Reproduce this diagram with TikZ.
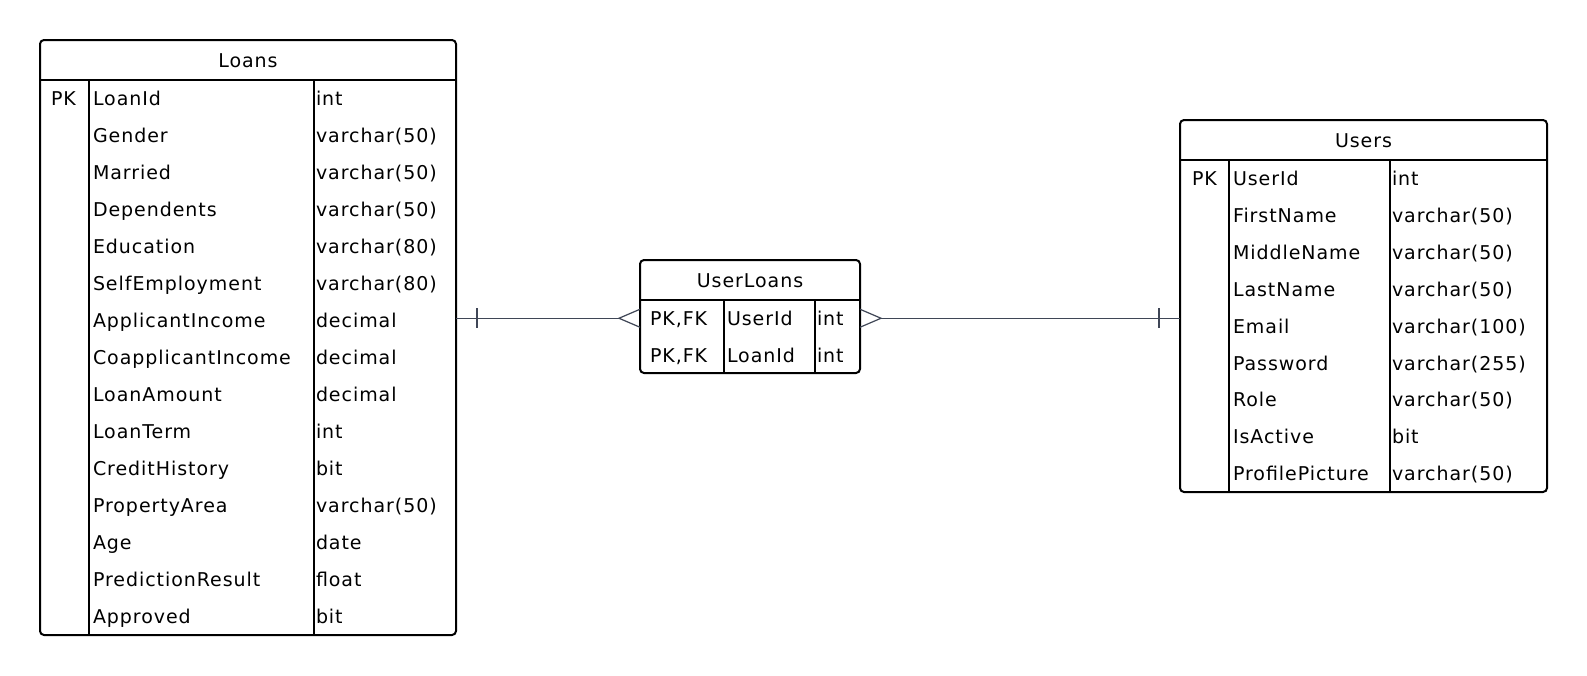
\documentclass[tikz,border=0pt]{standalone}
\usepackage{fontspec}
\setmainfont{DejaVu Sans}[LetterSpace=5]
\definecolor{relc}{HTML}{3F4656}
\begin{document}
\begin{tikzpicture}[x=1pt,y=-1pt,
  tbl/.style={draw=black, line width=2pt, rounded corners=4pt, inner sep=0pt, outer sep=0pt, anchor=north west},
  sepline/.style={draw=black, line width=2pt},
  txt/.style={inner sep=0pt, outer sep=0pt, anchor=base west, font=\fontsize{19}{22}\selectfont, text=black},
  ttl/.style={inner sep=0pt, outer sep=0pt, anchor=base, font=\fontsize{19}{22}\selectfont, text=black},
  rowbox/.style={inner sep=0pt, outer sep=0pt, anchor=north west},
  rel/.style={draw=relc, line width=1.2pt},
]
\useasboundingbox[fill=white] (0,0) rectangle (1587,675);

% ---------------- Loans ----------------
\node[tbl, minimum width=416pt, minimum height=595pt] (loans) at (40,40) {};
\node[ttl] (loansTitle) at (248,67) {Loans};
\draw[sepline] (40,80) -- (456,80);
\draw[sepline] (89,80) -- (89,635);
\draw[sepline] (314,80) -- (314,635);
\node[txt] (loansPK) at (51,105.5) {PK};
\foreach \n/\t [count=\i from 0] in {LoanId/int, Gender/varchar(50), Married/varchar(50), Dependents/varchar(50), Education/varchar(80), SelfEmployment/varchar(80), ApplicantIncome/decimal, CoapplicantIncome/decimal, LoanAmount/decimal, LoanTerm/int, CreditHistory/bit, PropertyArea/varchar(50), Age/date, PredictionResult/float, Approved/bit}{
  \node[txt] (loansN\i) at (93,80+37*\i+25.5) {\n};
  \node[txt] (loansY\i) at (316,80+37*\i+25.5) {\t};
}

% ---------------- UserLoans ----------------
\node[tbl, minimum width=220pt, minimum height=113pt] (ul) at (640,260) {};
\node[ttl] (ulTitle) at (750,287) {UserLoans};
\draw[sepline] (640,300) -- (860,300);
\draw[sepline] (724,300) -- (724,373);
\draw[sepline] (815,300) -- (815,373);
\node[rowbox, minimum width=220pt, minimum height=36.5pt] (ulrow1) at (640,300) {};
\foreach \n/\t [count=\i from 0] in {UserId/int, LoanId/int}{
  \node[txt] (ulK\i) at (650,300+36.5*\i+25.5) {PK,FK};
  \node[txt] (ulN\i) at (727,300+36.5*\i+25.5) {\n};
  \node[txt] (ulY\i) at (817,300+36.5*\i+25.5) {\t};
}

% ---------------- Users ----------------
\node[tbl, minimum width=367pt, minimum height=372pt] (users) at (1180,120) {};
\node[ttl] (usersTitle) at (1363.5,147) {Users};
\draw[sepline] (1180,160) -- (1547,160);
\draw[sepline] (1229,160) -- (1229,492);
\draw[sepline] (1390,160) -- (1390,492);
\node[txt] (usersPK) at (1192,185.5) {PK};
\foreach \n/\t [count=\i from 0] in {UserId/int, FirstName/varchar(50), MiddleName/varchar(50), LastName/varchar(50), Email/varchar(100), Password/varchar(255), Role/varchar(50), IsActive/bit, ProfilePicture/varchar(50)}{
  \node[txt] (usersN\i) at (1233,160+36.9*\i+25.5) {\n};
  \node[txt] (usersY\i) at (1392,160+36.9*\i+25.5) {\t};
}

% ---------------- Relations ----------------
\coordinate (lA) at (loans.east |- ulrow1.west);
\coordinate (lApex) at ([xshift=-21pt]ulrow1.west);
\draw[rel] (lA) -- (lApex);
\draw[rel] ([yshift=9pt]ulrow1.west) -- (lApex) -- ([yshift=-9pt]ulrow1.west);
\draw[rel] ([xshift=21pt,yshift=10pt]lA) -- ([xshift=21pt,yshift=-10pt]lA);

\coordinate (rA) at (users.west |- ulrow1.east);
\coordinate (rApex) at ([xshift=21pt]ulrow1.east);
\draw[rel] (rA) -- (rApex);
\draw[rel] ([yshift=9pt]ulrow1.east) -- (rApex) -- ([yshift=-9pt]ulrow1.east);
\draw[rel] ([xshift=-21pt,yshift=10pt]rA) -- ([xshift=-21pt,yshift=-10pt]rA);
\end{tikzpicture}
\end{document}
